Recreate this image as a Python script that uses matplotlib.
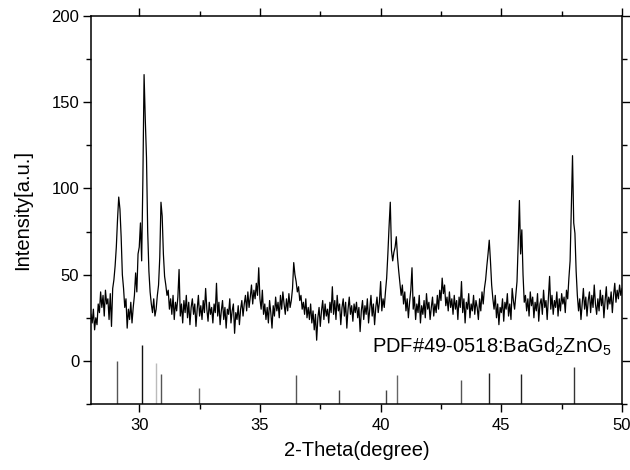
import numpy as np
import matplotlib
matplotlib.use("Agg")
import matplotlib.pyplot as plt

plt.rcParams['font.family'] = ['Liberation Sans', 'DejaVu Sans']
plt.rcParams['mathtext.fontset'] = 'custom'
plt.rcParams['mathtext.rm'] = 'Liberation Sans'
plt.rcParams['mathtext.it'] = 'Liberation Sans'

# measured pattern, 28.00 .. 50.00 deg in 0.05 deg steps
theta_start = 28.0
theta_end = 50.0
intensity = [
    # 28
    27, 22, 30, 18, 25, 21, 33, 28, 40, 31, 38, 26, 41, 33, 36, 24, 39, 20, 42, 47,
    # 29
    55, 66, 82, 95, 88, 72, 50, 42, 31, 36, 19, 30, 24, 34, 22, 31, 38, 51, 40, 62,
    # 30
    66, 80, 58, 105, 166, 140, 118, 75, 52, 40, 33, 28, 36, 26, 30, 38, 44, 60, 92, 84,
    # 31
    62, 49, 44, 38, 41, 30, 36, 27, 38, 24, 34, 29, 37, 53, 26, 33, 22, 35, 28, 38,
    # 32
    25, 34, 21, 31, 36, 27, 33, 20, 30, 38, 26, 32, 24, 35, 28, 42, 30, 23, 34, 27,
    # 33
    31, 22, 33, 28, 45, 26, 34, 21, 29, 35, 24, 31, 19, 30, 27, 36, 22, 29, 33, 16,
    # 34
    28, 24, 32, 21, 30, 35, 26, 33, 38, 29, 40, 31, 37, 44, 33, 41, 36, 45, 38, 54,
    # 35
    36, 30, 41, 27, 33, 24, 31, 22, 35, 28, 19, 32, 26, 37, 29, 34, 25, 38, 30, 40,
    # 36
    33, 27, 36, 29, 39, 31, 35, 42, 57, 50, 46, 40, 43, 35, 38, 30, 34, 27, 36, 25,
    # 37
    31, 24, 33, 22, 29, 18, 27, 12, 25, 31, 20, 29, 35, 24, 33, 26, 30, 22, 34, 28,
    # 38
    43, 27, 35, 24, 38, 29, 33, 21, 31, 36, 26, 34, 19, 30, 37, 27, 32, 23, 33, 28,
    # 39
    34, 25, 31, 17, 29, 35, 24, 32, 27, 36, 22, 30, 38, 26, 33, 21, 31, 37, 28, 34,
    # 40
    46, 29, 36, 31, 40, 48, 62, 78, 92, 64, 58, 63, 66, 72, 60, 52, 45, 38, 44, 33,
    # 41
    40, 29, 36, 25, 34, 41, 54, 30, 37, 24, 33, 28, 38, 22, 32, 27, 35, 25, 39, 30,
    # 42
    34, 24, 31, 37, 26, 33, 28, 38, 30, 41, 35, 48, 39, 44, 32, 37, 29, 40, 31, 36,
    # 43
    27, 38, 30, 35, 24, 37, 31, 46, 28, 36, 22, 34, 30, 39, 25, 33, 29, 38, 27, 35,
    # 44
    31, 24, 36, 29, 40, 33, 42, 47, 55, 62, 70, 58, 44, 36, 30, 38, 25, 33, 21, 31,
    # 45
    28, 36, 23, 34, 30, 39, 26, 33, 24, 42, 35, 30, 38, 46, 68, 93, 62, 76, 50, 34,
    # 46
    38, 29, 36, 26, 40, 32, 37, 25, 34, 29, 39, 23, 33, 36, 27, 41, 31, 35, 24, 37,
    # 47
    49, 30, 38, 27, 35, 31, 40, 26, 36, 29, 39, 33, 37, 28, 41, 36, 48, 58, 88, 119,
    # 48
    80, 74, 52, 38, 29, 36, 24, 33, 42, 30, 37, 26, 35, 40, 28, 38, 31, 44, 33, 27,
    # 49
    36, 29, 41, 32, 38, 25, 35, 43, 30, 37, 33, 40, 28, 38, 45, 34, 41, 36, 44, 38,
    # 50
    42,
]

# reference stick pattern PDF#49-0518
ref_positions = [29.07, 30.10, 30.71, 30.92, 32.48, 36.50, 38.27, 40.24, 40.68,
                 43.35, 44.50, 45.81, 48.01]
ref_tops = [0, 9, -1, -7.5, -15.5, -8, -17, -17, -8, -11, -7, -7.5, -3.5]
ref_colors = ['#555555', '#111111', '#bbbbbb', '#555555', '#666666', '#555555',
              '#444444', '#444444', '#666666', '#555555', '#222222', '#222222',
              '#333333']

x_ticks = [30, 35, 40, 45, 50]
y_ticks = [0, 50, 100, 150, 200]
x_label = '2-Theta(degree)'
y_label = 'Intensity[a.u.]'
ref_label = r'PDF#49-0518:BaGd$_2$ZnO$_5$'

two_theta = np.linspace(theta_start, theta_end, len(intensity))

fig = plt.figure(figsize=(6.3, 4.7), dpi=100)
ax = fig.add_axes([0.1444, 0.1404, 0.8429, 0.8256])

ax.plot(two_theta, intensity, color='black', linewidth=0.9)

ax.set_xticks(x_ticks)
ax.set_yticks(y_ticks)
ax.set_xticks(np.arange(32.5, 50.01, 5), minor=True)
ax.set_yticks(np.arange(-25, 200.1, 50), minor=True)
ax.set_xlim(28, 50)
ax.set_ylim(-25, 200)

ax.vlines(ref_positions, -25, ref_tops, colors=ref_colors, linewidth=1.0)

ax.text(39.64, 4.6, ref_label, fontsize=14.5, va='baseline', ha='left')

ax.tick_params(which='both', direction='out', top=True, right=True,
               labelsize=12, width=1.0)
ax.tick_params(which='major', length=6)
ax.tick_params(which='minor', length=3.5)
ax.tick_params(axis='y', pad=2.5)
ax.tick_params(axis='x', pad=4)
for s in ax.spines.values():
    s.set_linewidth(1.1)

ax.set_xlabel(x_label, fontsize=14.5, labelpad=6)
ax.set_ylabel(y_label, fontsize=14.5, labelpad=14)

fig.savefig('out.png', dpi=100)
